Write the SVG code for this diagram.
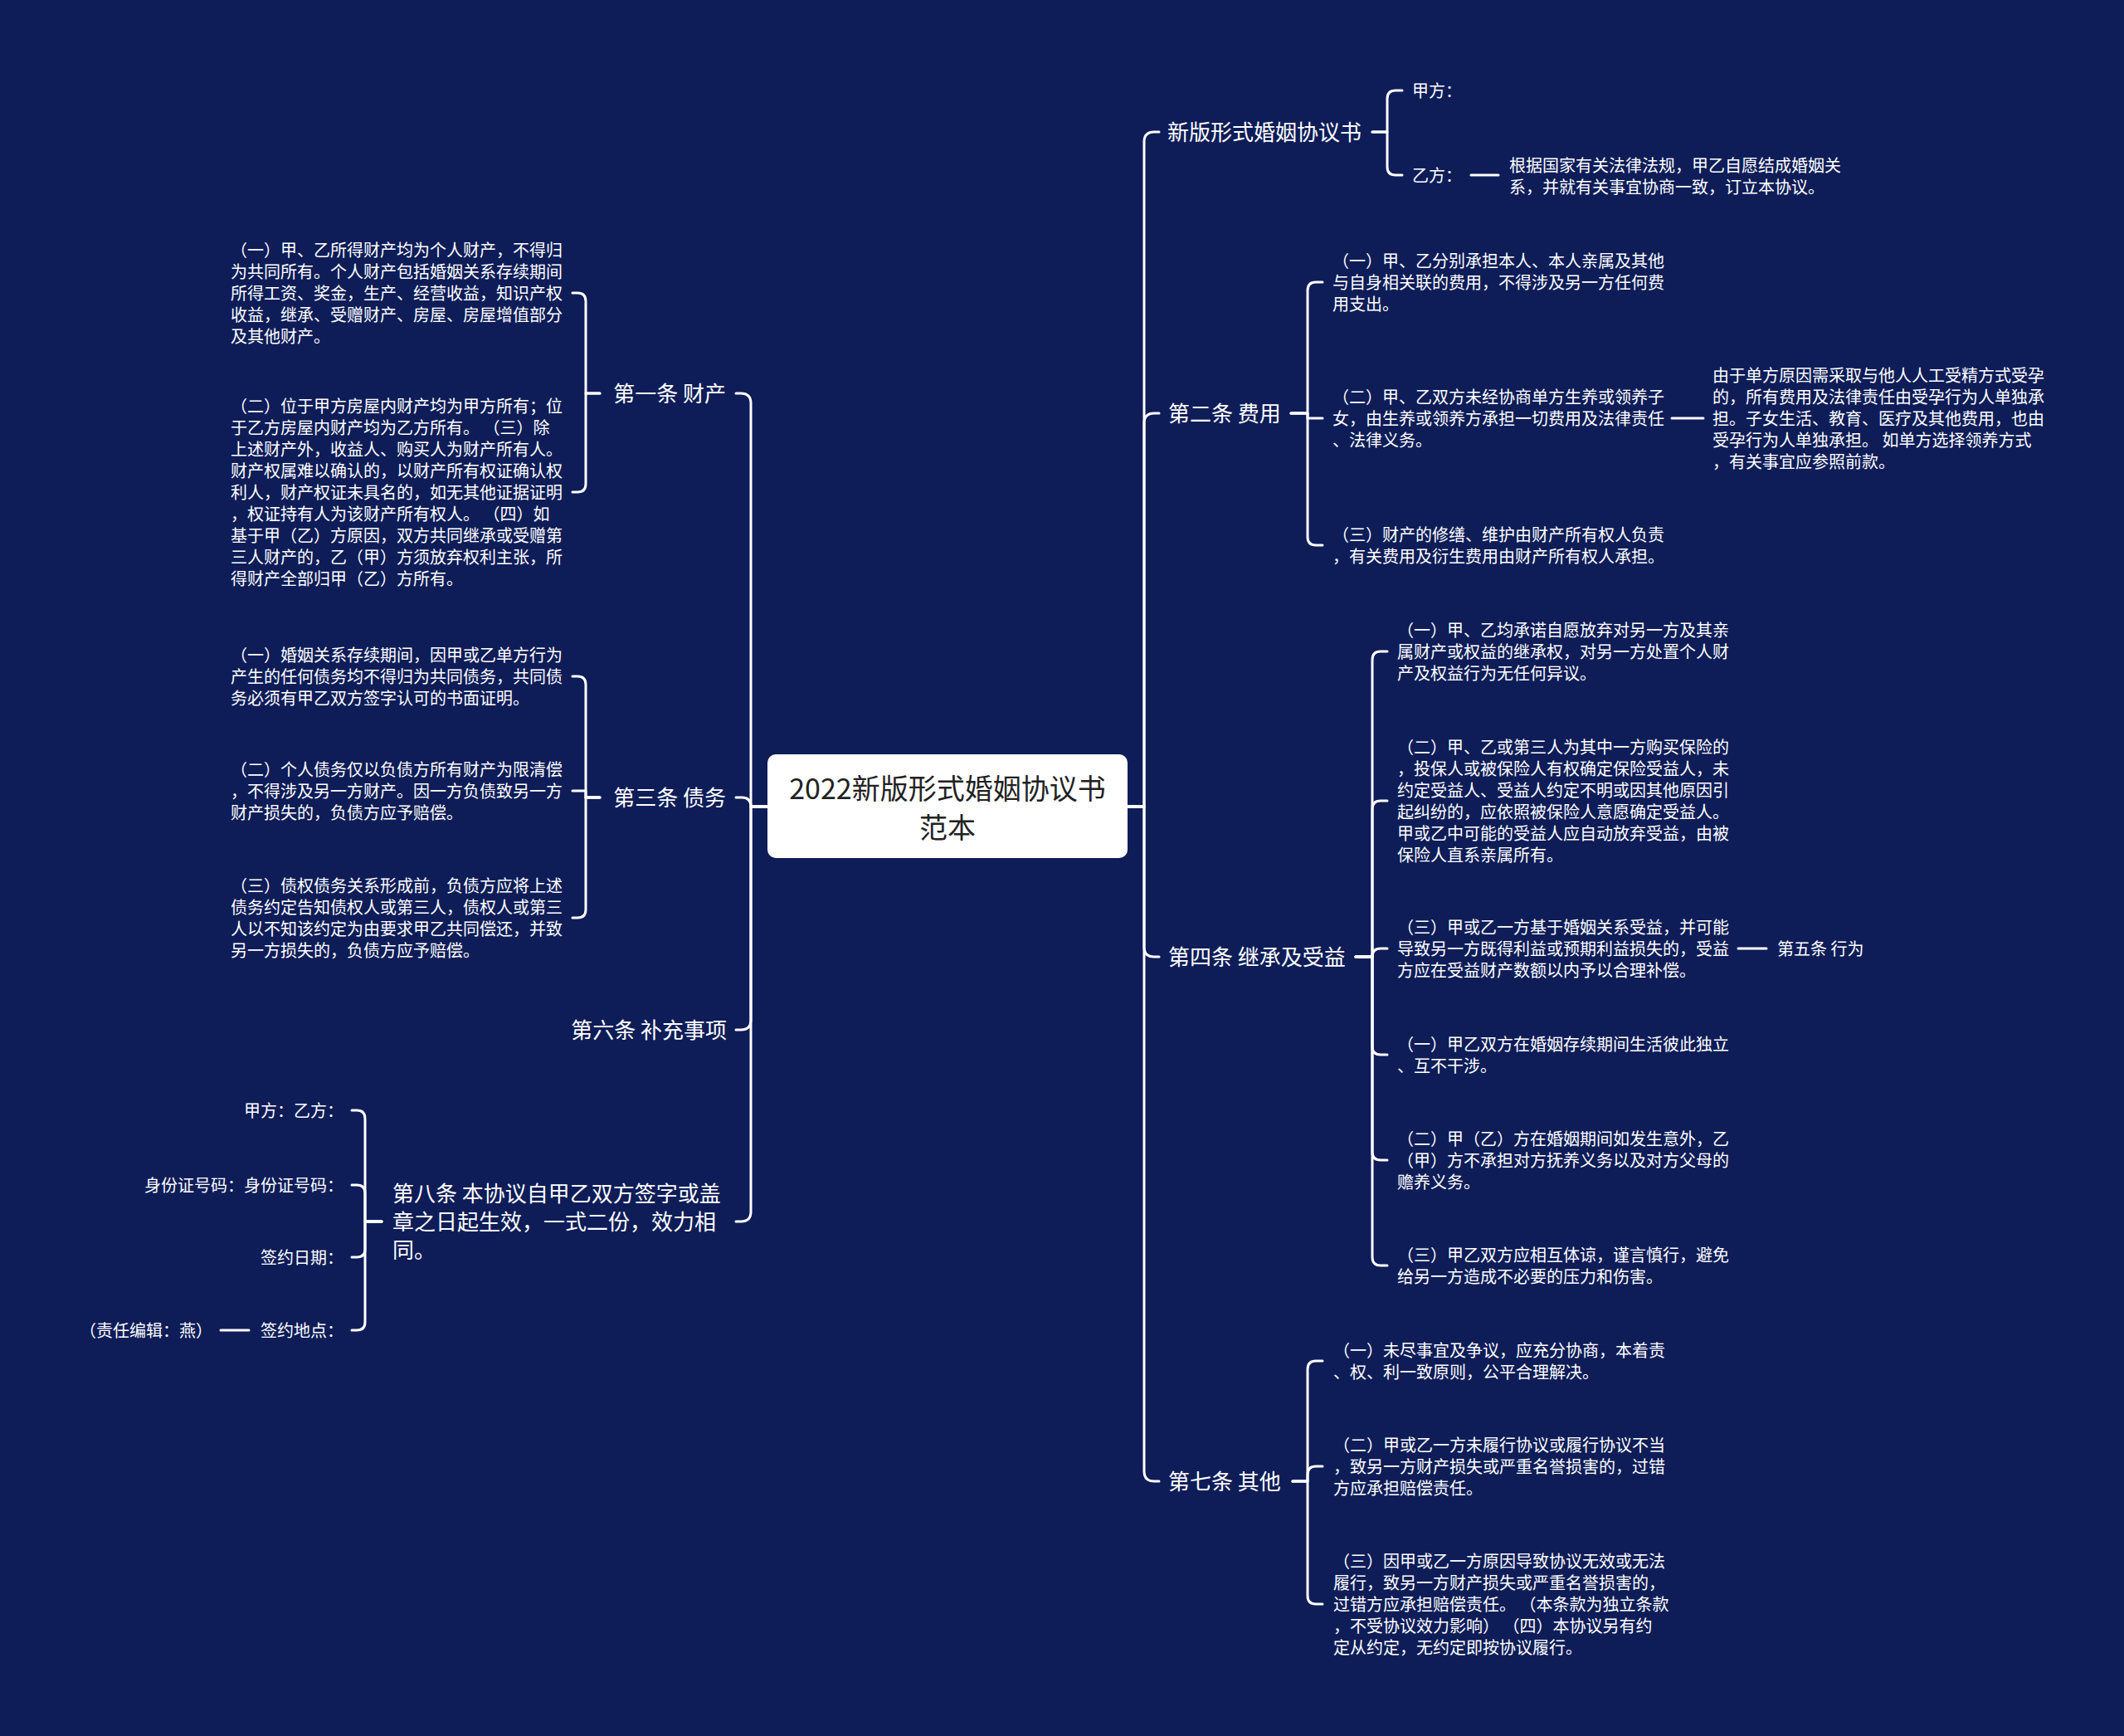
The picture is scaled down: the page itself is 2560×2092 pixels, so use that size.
<svg xmlns="http://www.w3.org/2000/svg" width="2560" height="2092" viewBox="0 0 2560 2092">
<style>
.bg{fill:#0e1d58}
.ln{fill:none;stroke:#ffffff;stroke-width:3;stroke-linecap:round;stroke-linejoin:round}
text{font-family:"Noto Sans CJK SC","Noto Sans",sans-serif;fill:#ffffff}
.t1{font-size:26px}
.t2{font-size:20px}
.root{font-size:34px;fill:#222222}
</style>
<rect class="bg" x="0" y="0" width="2560" height="2092"/>
<g id="connectors">
<!-- right trunk -->
<path class="ln" d="M1359,972 H1379 V171 Q1379,159 1391,159 H1397"/>
<path class="ln" d="M1359,972 H1379 V510 Q1379,498 1391,498 H1397"/>
<path class="ln" d="M1359,972 H1379 V1141 Q1379,1153 1391,1153 H1397"/>
<path class="ln" d="M1359,972 H1379 V1773 Q1379,1785 1391,1785 H1397"/>
<!-- left trunk -->
<path class="ln" d="M925,972 H905 V486 Q905,474 893,474 H887"/>
<path class="ln" d="M925,972 H905 Q905,961 894,961 H887"/>
<path class="ln" d="M925,972 H905 V1229 Q905,1241 893,1241 H887"/>
<path class="ln" d="M925,972 H905 V1460 Q905,1472 893,1472 H887"/>
<!-- 新版 bracket -->
<path class="ln" d="M1654,159 H1672 V119 Q1672,109 1682,109 H1690"/>
<path class="ln" d="M1654,159 H1672 V201 Q1672,211 1682,211 H1690"/>
<path class="ln" d="M1773,211 H1806"/>
<!-- 第二条 bracket -->
<path class="ln" d="M1556,498 H1576 V350 Q1576,340 1586,340 H1594"/>
<path class="ln" d="M1556,498 H1576 V504 H1594"/>
<path class="ln" d="M1556,498 H1576 V647 Q1576,657 1586,657 H1594"/>
<path class="ln" d="M2015,504 H2053"/>
<!-- 第四条 bracket -->
<path class="ln" d="M1634,1153 H1654 V795 Q1654,785 1664,785 H1672"/>
<path class="ln" d="M1634,1153 H1654 V975 Q1654,965 1664,965 H1672"/>
<path class="ln" d="M1634,1153 H1654 Q1654,1143 1664,1143 H1672"/>
<path class="ln" d="M1634,1153 H1654 V1261 Q1654,1271 1664,1271 H1672"/>
<path class="ln" d="M1634,1153 H1654 V1388 Q1654,1398 1664,1398 H1672"/>
<path class="ln" d="M1634,1153 H1654 V1515 Q1654,1525 1664,1525 H1672"/>
<path class="ln" d="M2095,1143 H2129"/>
<!-- 第七条 bracket -->
<path class="ln" d="M1558,1785 H1576 V1650 Q1576,1640 1586,1640 H1594"/>
<path class="ln" d="M1558,1785 H1576 V1777 Q1576,1767 1586,1767 H1594"/>
<path class="ln" d="M1558,1785 H1576 V1923 Q1576,1933 1586,1933 H1594"/>
<!-- 第一条 bracket -->
<path class="ln" d="M723,474 H706 V363 Q706,353 696,353 H690"/>
<path class="ln" d="M723,474 H706 V583 Q706,593 696,593 H690"/>
<!-- 第三条 bracket -->
<path class="ln" d="M723,961 H706 V825 Q706,815 696,815 H690"/>
<path class="ln" d="M723,961 H706 V953 H690"/>
<path class="ln" d="M723,961 H706 V1096 Q706,1106 696,1106 H690"/>
<!-- 第八条 bracket -->
<path class="ln" d="M460,1472 H440 V1348 Q440,1338 430,1338 H424"/>
<path class="ln" d="M460,1472 H440 V1438 Q440,1428 430,1428 H424"/>
<path class="ln" d="M460,1472 H440 V1505 Q440,1515 430,1515 H424"/>
<path class="ln" d="M460,1472 H440 V1593 Q440,1603 430,1603 H424"/>
<path class="ln" d="M266,1603 H300"/>
</g>

<g id="root">
<rect x="925" y="909" width="434" height="125" rx="10" fill="#ffffff"/>
<text class="root" text-anchor="middle"><tspan x="1142" y="963">2022新版形式婚姻协议书</tspan><tspan x="1142" y="1010">范本</tspan></text>
</g>

<g id="n-xinban">
<text class="t1" x="1407" y="169">新版形式婚姻协议书</text>
</g>
<g id="n-jiafang">
<text class="t2" x="1702" y="117">甲方：</text>
</g>
<g id="n-yifang">
<text class="t2" x="1702" y="219">乙方：</text>
</g>
<g id="n-yifang-p">
<text class="t2"><tspan x="1819" y="207">根据国家有关法律法规，甲乙自愿结成婚姻关</tspan><tspan x="1819" y="233">系，并就有关事宜协商一致，订立本协议。</tspan></text>
</g>

<g id="n-art2">
<text class="t1" x="1408" y="508">第二条 费用</text>
</g>
<g id="n-art2-1">
<text class="t2"><tspan x="1606" y="322">（一）甲、乙分别承担本人、本人亲属及其他</tspan><tspan x="1606" y="348">与自身相关联的费用，不得涉及另一方任何费</tspan><tspan x="1606" y="374">用支出。</tspan></text>
</g>
<g id="n-art2-2">
<text class="t2"><tspan x="1606" y="486">（二）甲、乙双方未经协商单方生养或领养子</tspan><tspan x="1606" y="512">女，由生养或领养方承担一切费用及法律责任</tspan><tspan x="1606" y="538">、法律义务。</tspan></text>
</g>
<g id="n-art2-2a">
<text class="t2"><tspan x="2064" y="460">由于单方原因需采取与他人人工受精方式受孕</tspan><tspan x="2064" y="486">的，所有费用及法律责任由受孕行为人单独承</tspan><tspan x="2064" y="512">担。子女生活、教育、医疗及其他费用，也由</tspan><tspan x="2064" y="538">受孕行为人单独承担。 如单方选择领养方式</tspan><tspan x="2064" y="564">，有关事宜应参照前款。</tspan></text>
</g>
<g id="n-art2-3">
<text class="t2"><tspan x="1606" y="652">（三）财产的修缮、维护由财产所有权人负责</tspan><tspan x="1606" y="678">，有关费用及衍生费用由财产所有权人承担。</tspan></text>
</g>

<g id="n-art4">
<text class="t1" x="1408" y="1163">第四条 继承及受益</text>
</g>
<g id="n-art4-1">
<text class="t2"><tspan x="1684" y="767">（一）甲、乙均承诺自愿放弃对另一方及其亲</tspan><tspan x="1684" y="793">属财产或权益的继承权，对另一方处置个人财</tspan><tspan x="1684" y="819">产及权益行为无任何异议。</tspan></text>
</g>
<g id="n-art4-2">
<text class="t2"><tspan x="1684" y="908">（二）甲、乙或第三人为其中一方购买保险的</tspan><tspan x="1684" y="934">，投保人或被保险人有权确定保险受益人，未</tspan><tspan x="1684" y="960">约定受益人、受益人约定不明或因其他原因引</tspan><tspan x="1684" y="986">起纠纷的，应依照被保险人意愿确定受益人。</tspan><tspan x="1684" y="1012">甲或乙中可能的受益人应自动放弃受益，由被</tspan><tspan x="1684" y="1038">保险人直系亲属所有。</tspan></text>
</g>
<g id="n-art4-3">
<text class="t2"><tspan x="1684" y="1125">（三）甲或乙一方基于婚姻关系受益，并可能</tspan><tspan x="1684" y="1151">导致另一方既得利益或预期利益损失的，受益</tspan><tspan x="1684" y="1177">方应在受益财产数额以内予以合理补偿。</tspan></text>
</g>
<g id="n-art5">
<text class="t2" x="2142" y="1151">第五条 行为</text>
</g>
<g id="n-art4-4">
<text class="t2"><tspan x="1684" y="1266">（一）甲乙双方在婚姻存续期间生活彼此独立</tspan><tspan x="1684" y="1292">、互不干涉。</tspan></text>
</g>
<g id="n-art4-5">
<text class="t2"><tspan x="1684" y="1380">（二）甲（乙）方在婚姻期间如发生意外，乙</tspan><tspan x="1684" y="1406">（甲）方不承担对方抚养义务以及对方父母的</tspan><tspan x="1684" y="1432">赡养义务。</tspan></text>
</g>
<g id="n-art4-6">
<text class="t2"><tspan x="1684" y="1520">（三）甲乙双方应相互体谅，谨言慎行，避免</tspan><tspan x="1684" y="1546">给另一方造成不必要的压力和伤害。</tspan></text>
</g>

<g id="n-art7">
<text class="t1" x="1408" y="1795">第七条 其他</text>
</g>
<g id="n-art7-1">
<text class="t2"><tspan x="1607" y="1635">（一）未尽事宜及争议，应充分协商，本着责</tspan><tspan x="1607" y="1661">、权、利一致原则，公平合理解决。</tspan></text>
</g>
<g id="n-art7-2">
<text class="t2"><tspan x="1607" y="1749">（二）甲或乙一方未履行协议或履行协议不当</tspan><tspan x="1607" y="1775">，致另一方财产损失或严重名誉损害的，过错</tspan><tspan x="1607" y="1801">方应承担赔偿责任。</tspan></text>
</g>
<g id="n-art7-3">
<text class="t2"><tspan x="1607" y="1889">（三）因甲或乙一方原因导致协议无效或无法</tspan><tspan x="1607" y="1915">履行，致另一方财产损失或严重名誉损害的，</tspan><tspan x="1607" y="1941">过错方应承担赔偿责任。 （本条款为独立条款</tspan><tspan x="1607" y="1967">，不受协议效力影响） （四）本协议另有约</tspan><tspan x="1607" y="1993">定从约定，无约定即按协议履行。</tspan></text>
</g>

<g id="n-art1">
<text class="t1" x="875" y="484" text-anchor="end">第一条 财产</text>
</g>
<g id="n-art1-1">
<text class="t2"><tspan x="278" y="309">（一）甲、乙所得财产均为个人财产，不得归</tspan><tspan x="278" y="335">为共同所有。个人财产包括婚姻关系存续期间</tspan><tspan x="278" y="361">所得工资、奖金，生产、经营收益，知识产权</tspan><tspan x="278" y="387">收益，继承、受赠财产、房屋、房屋增值部分</tspan><tspan x="278" y="413">及其他财产。</tspan></text>
</g>
<g id="n-art1-2">
<text class="t2"><tspan x="278" y="497">（二）位于甲方房屋内财产均为甲方所有；位</tspan><tspan x="278" y="523">于乙方房屋内财产均为乙方所有。 （三）除</tspan><tspan x="278" y="549">上述财产外，收益人、购买人为财产所有人。</tspan><tspan x="278" y="575">财产权属难以确认的，以财产所有权证确认权</tspan><tspan x="278" y="601">利人，财产权证未具名的，如无其他证据证明</tspan><tspan x="278" y="627">，权证持有人为该财产所有权人。 （四）如</tspan><tspan x="278" y="653">基于甲（乙）方原因，双方共同继承或受赠第</tspan><tspan x="278" y="679">三人财产的，乙（甲）方须放弃权利主张，所</tspan><tspan x="278" y="705">得财产全部归甲（乙）方所有。</tspan></text>
</g>

<g id="n-art3">
<text class="t1" x="875" y="971" text-anchor="end">第三条 债务</text>
</g>
<g id="n-art3-1">
<text class="t2"><tspan x="278" y="797">（一）婚姻关系存续期间，因甲或乙单方行为</tspan><tspan x="278" y="823">产生的任何债务均不得归为共同债务，共同债</tspan><tspan x="278" y="849">务必须有甲乙双方签字认可的书面证明。</tspan></text>
</g>
<g id="n-art3-2">
<text class="t2"><tspan x="278" y="935">（二）个人债务仅以负债方所有财产为限清偿</tspan><tspan x="278" y="961">，不得涉及另一方财产。因一方负债致另一方</tspan><tspan x="278" y="987">财产损失的，负债方应予赔偿。</tspan></text>
</g>
<g id="n-art3-3">
<text class="t2"><tspan x="278" y="1075">（三）债权债务关系形成前，负债方应将上述</tspan><tspan x="278" y="1101">债务约定告知债权人或第三人，债权人或第三</tspan><tspan x="278" y="1127">人以不知该约定为由要求甲乙共同偿还，并致</tspan><tspan x="278" y="1153">另一方损失的，负债方应予赔偿。</tspan></text>
</g>

<g id="n-art6">
<text class="t1" x="876" y="1251" text-anchor="end">第六条 补充事项</text>
</g>

<g id="n-art8">
<text class="t1"><tspan x="473" y="1448">第八条 本协议自甲乙双方签字或盖</tspan><tspan x="473" y="1482">章之日起生效，一式二份，效力相</tspan><tspan x="473" y="1516">同。</tspan></text>
</g>
<g id="n-art8-1">
<text class="t2" x="414" y="1346" text-anchor="end">甲方：乙方：</text>
</g>
<g id="n-art8-2">
<text class="t2" x="414" y="1436" text-anchor="end">身份证号码：身份证号码：</text>
</g>
<g id="n-art8-3">
<text class="t2" x="414" y="1523" text-anchor="end">签约日期：</text>
</g>
<g id="n-art8-4">
<text class="t2" x="414" y="1611" text-anchor="end">签约地点：</text>
</g>
<g id="n-editor">
<text class="t2" x="256" y="1611" text-anchor="end">（责任编辑：燕）</text>
</g>
</svg>
